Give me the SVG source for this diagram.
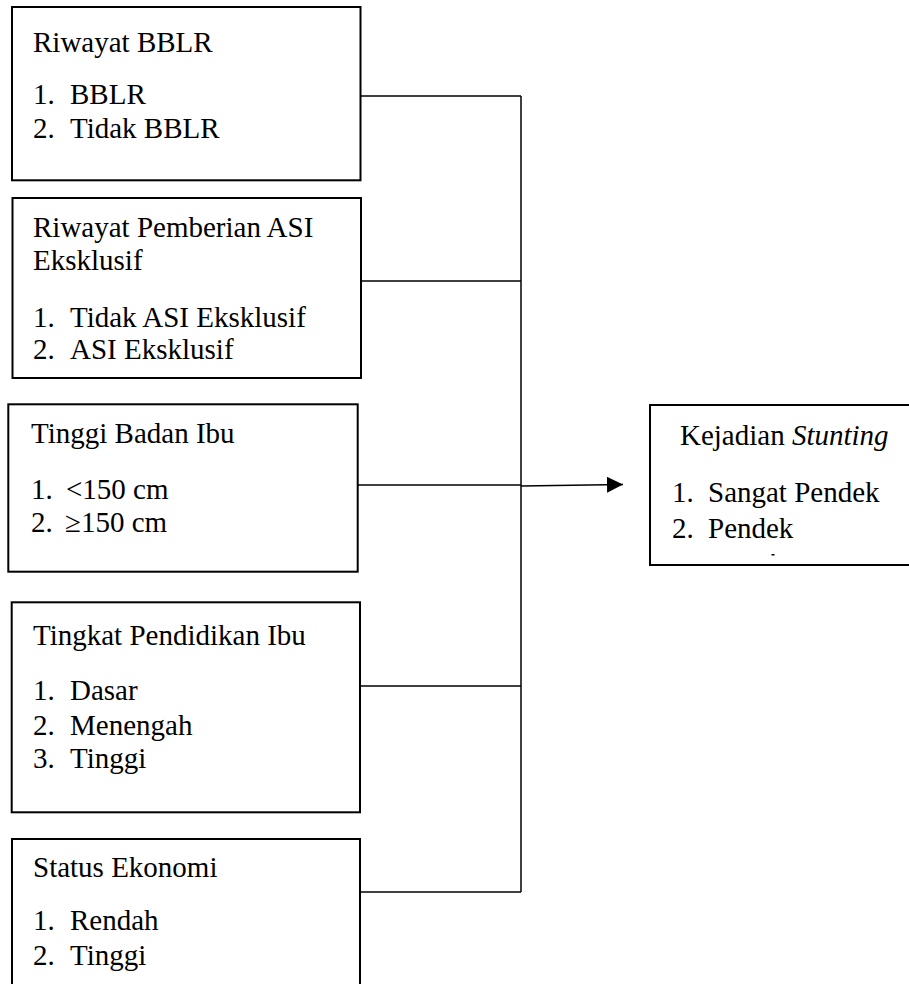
<svg xmlns="http://www.w3.org/2000/svg" width="909" height="984" viewBox="0 0 909 984">
<style>
.box{fill:#fff;stroke:#000;stroke-width:2}
.t{font-family:"Liberation Serif","Times New Roman",serif;font-size:29px;fill:#000}
.c{fill:none;stroke:#000;stroke-width:1.5}
</style>
<defs>
<marker id="ah" markerWidth="16" markerHeight="16" refX="16" refY="8" orient="auto" markerUnits="userSpaceOnUse">
<path d="M0,0 L16,8 L0,16 Z" fill="#000"/>
</marker>
</defs>
<rect x="0" y="0" width="909" height="984" fill="#fff"/>
<g id="connectors">
<path class="c" d="M361,96 H521"/>
<path class="c" d="M361,281 H521"/>
<path class="c" d="M358,485 H521"/>
<path class="c" d="M360,686 H521"/>
<path class="c" d="M361,892 H521"/>
<path class="c" d="M521,96 V892"/>
<path class="c" d="M521,486 L623,484.5" marker-end="url(#ah)"/>
</g>
<g id="node-bblr">
<rect class="box" x="12" y="7" width="348.5" height="173.3"/>
<text class="t" x="33" y="52">Riwayat BBLR</text>
<text class="t" x="33" y="104">1.</text><text class="t" x="70" y="104">BBLR</text>
<text class="t" x="33" y="138">2.</text><text class="t" x="70" y="138">Tidak BBLR</text>
</g>
<g id="node-asi">
<rect class="box" x="12.5" y="198" width="348.5" height="180"/>
<text class="t" x="33" y="237">Riwayat Pemberian ASI</text>
<text class="t" x="33" y="270">Eksklusif</text>
<text class="t" x="33" y="327">1.</text><text class="t" x="70" y="327">Tidak ASI Eksklusif</text>
<text class="t" x="33" y="359">2.</text><text class="t" x="70" y="359">ASI Eksklusif</text>
</g>
<g id="node-tinggi">
<rect class="box" x="8.3" y="404.3" width="349.4" height="167.4"/>
<text class="t" x="31" y="443">Tinggi Badan Ibu</text>
<text class="t" x="31" y="499">1.</text><text class="t" x="66" y="499">&lt;150 cm</text>
<text class="t" x="31" y="532">2.</text><text class="t" x="65" y="532">≥150 cm</text>
</g>
<g id="node-pendidikan">
<rect class="box" x="11.7" y="602.3" width="348.3" height="210"/>
<text class="t" x="33" y="645">Tingkat Pendidikan Ibu</text>
<text class="t" x="33" y="700">1.</text><text class="t" x="70" y="700">Dasar</text>
<text class="t" x="33" y="735">2.</text><text class="t" x="70" y="735">Menengah</text>
<text class="t" x="33" y="768">3.</text><text class="t" x="70" y="768">Tinggi</text>
</g>
<g id="node-ekonomi">
<rect class="box" x="12" y="839" width="348" height="200"/>
<text class="t" x="33" y="877">Status Ekonomi</text>
<text class="t" x="33" y="930">1.</text><text class="t" x="70" y="930">Rendah</text>
<text class="t" x="33" y="965">2.</text><text class="t" x="70" y="965">Tinggi</text>
</g>
<g id="node-stunting">
<rect class="box" x="650" y="405" width="300" height="160"/>
<text class="t" x="680" y="445">Kejadian <tspan font-style="italic">Stunting</tspan></text>
<text class="t" x="672" y="502">1.</text><text class="t" x="708" y="502">Sangat Pendek</text>
<text class="t" x="672" y="538">2.</text><text class="t" x="708" y="538">Pendek</text>
<rect x="771.5" y="554" width="3" height="1.5" fill="#000"/>
</g>
</svg>
